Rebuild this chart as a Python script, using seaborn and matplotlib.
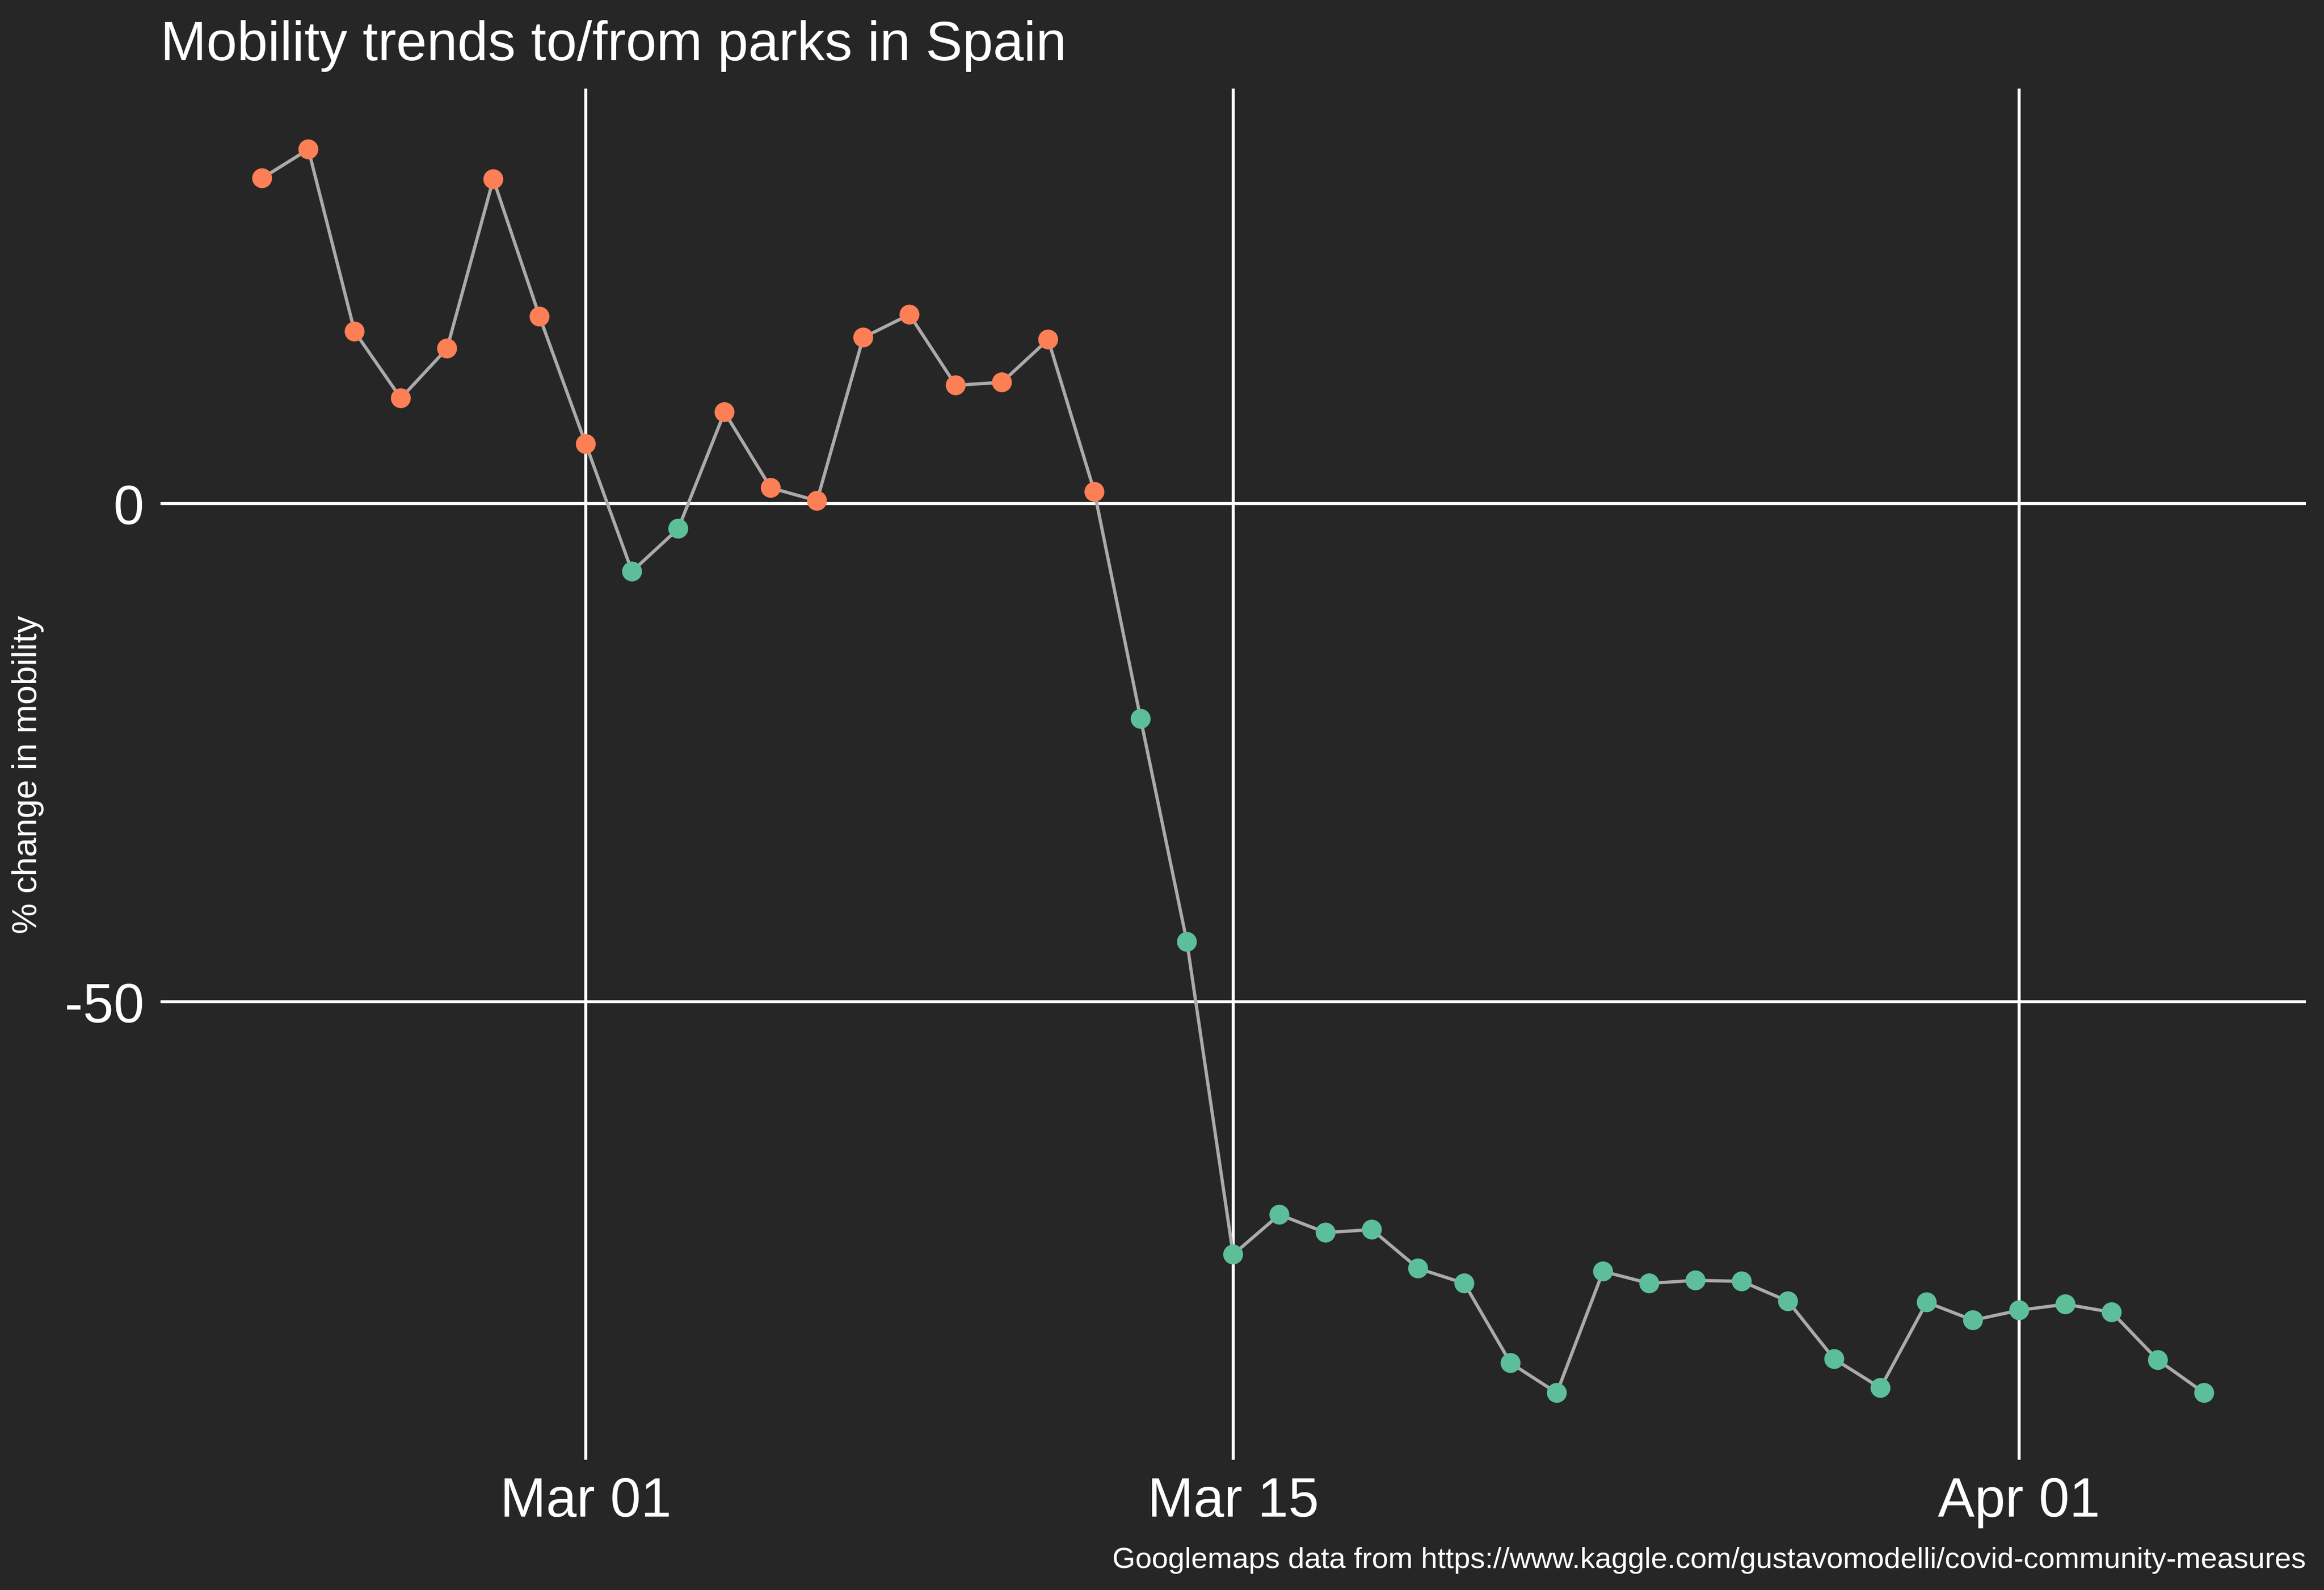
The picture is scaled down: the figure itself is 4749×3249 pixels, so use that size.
import matplotlib
matplotlib.use("Agg")
import matplotlib.pyplot as plt
import matplotlib.dates as mdates
import seaborn as sns
import pandas as pd
import numpy as np

dates = pd.date_range("2020-02-23", "2020-04-05", freq="D")
values = [32.7, 35.6, 17.3, 10.6, 15.6, 32.6, 18.8, 6.0, -6.8, -2.5, 9.2, 1.6, 0.3,
          16.7, 19.0, 11.9, 12.2, 16.5, 1.2, -21.6, -44.0, -75.4, -71.4, -73.2, -72.9,
          -76.8, -78.3, -86.3, -89.3, -77.1, -78.3, -78.0, -78.1, -80.1, -85.9, -88.8,
          -80.2, -82.0, -81.0, -80.4, -81.2, -86.0, -89.3]
df = pd.DataFrame({"date": dates, "value": values})
df["sign"] = np.where(df["value"] >= 0, "pos", "neg")

sns.set_theme(style="dark")
plt.rcParams["font.family"] = ["Liberation Sans", "DejaVu Sans"]
bg = "#262626"
fig = plt.figure(figsize=(15.8333, 10.8333), dpi=300, facecolor=bg)
ax = fig.add_axes([0.069, 0.082, 0.923, 0.862])
ax.set_facecolor(bg)

sns.lineplot(data=df, x="date", y="value", color="#aaaaaa", lw=1.6, ax=ax, zorder=2)
sns.scatterplot(data=df, x="date", y="value", hue="sign",
                palette={"pos": "#fc7f55", "neg": "#5cbf9a"}, s=95, edgecolor="none",
                legend=False, ax=ax, zorder=3)

ax.set_xlim(pd.Timestamp("2020-03-01") - pd.Timedelta(days=9.2),
            pd.Timestamp("2020-03-01") + pd.Timedelta(days=37.2))
ax.set_ylim(-96, 41.7)
ax.set_xticks([pd.Timestamp("2020-03-01"), pd.Timestamp("2020-03-15"), pd.Timestamp("2020-04-01")])
ax.xaxis.set_major_formatter(mdates.DateFormatter("%b %d"))
ax.set_yticks([0, -50])
ax.set_yticklabels(["0", "-50"])
ax.grid(True, color="white", lw=1.5)
ax.set_axisbelow(True)
for s in ax.spines.values():
    s.set_visible(False)
ax.tick_params(colors="white", labelsize=27, length=0, pad=8)
ax.set_xlabel("")
ax.set_ylabel("% change in mobility", color="white", fontsize=17, labelpad=10)
fig.text(0.069, 0.962, "Mobility trends to/from parks in Spain", color="white", fontsize=27)
fig.text(0.992, 0.014, "Googlemaps data from https://www.kaggle.com/gustavomodelli/covid-community-measures",
         color="white", fontsize=14.5, ha="right")
fig.savefig("out.png", dpi=300, facecolor=bg)
